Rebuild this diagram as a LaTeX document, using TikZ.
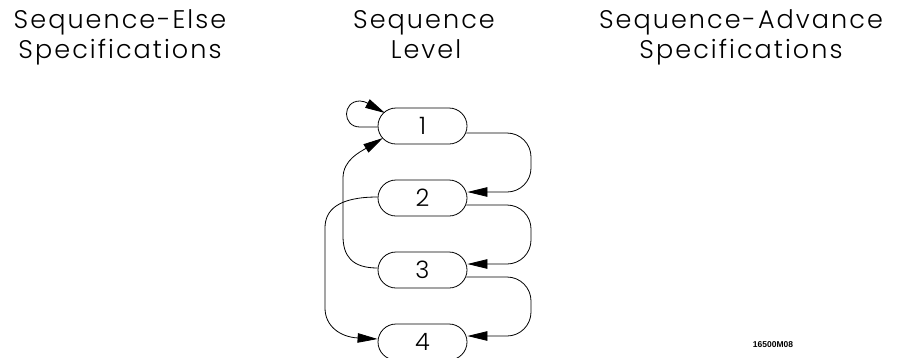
\documentclass[tikz,border=0pt]{standalone}
\usepackage{fontspec}
\setmainfont{Poppins}
\IfFontExistsTF{Poppins Light}
  {\newfontfamily\hdr[LetterSpace=8]{Poppins Light}}
  {\newfontfamily\hdr[LetterSpace=8]{Poppins}}
\newfontfamily\codefont{Liberation Sans}
\usetikzlibrary{arrows.meta,calc}
\tikzset{
  state/.style={draw, line width=0.8pt, rounded corners=18pt, minimum width=89pt, minimum height=36pt, inner sep=0pt, font=\hdr\fontsize{24}{24}\selectfont},
  hdrtext/.style={anchor=base, inner sep=0pt, font=\hdr\fontsize{25.5}{30}\selectfont},
  conn/.style={line width=0.8pt},
  tip/.style={-{Triangle[length=20pt,width=9.5pt]}}
}
\begin{document}
\begin{tikzpicture}[x=1pt,y=1pt]
\useasboundingbox (0,0) rectangle (899,-357);
% headers
\node[hdrtext] (h1a) at (120,-28) {Sequence-Else};
\node[hdrtext] (h1b) at (120,-58) {Specifications};
\node[hdrtext] (h2a) at (424,-28) {Sequence};
\node[hdrtext] (h2b) at (426,-58) {Level};
\node[hdrtext] (h3a) at (741,-28) {Sequence-Advance};
\node[hdrtext] (h3b) at (741,-58) {Specifications};
% states
\node[state] (n1) at (422.5,-126) {1};
\node[state] (n2) at (422.5,-198) {2};
\node[state] (n3) at (422.5,-270) {3};
\node[state] (n4) at (422.5,-342) {4};
% right side advances
\draw[conn,tip,rounded corners=24pt] ($(n1.east)+(-1,-7)$) -- (531,-133) -- (531,-192) -- ($(n2.east)+(0,6)$);
\draw[conn,tip,rounded corners=24pt] ($(n2.east)+(-1,-7)$) -- (531,-205) -- (531,-264) -- ($(n3.east)+(0,6)$);
\draw[conn,tip,rounded corners=24pt] ($(n3.east)+(-1,-7)$) -- (531,-277) -- (531,-336) -- ($(n4.east)+(0,6)$);
% self loop on 1
\draw[conn,tip] ($(n1.west)+(0,-1)$) -- (360,-127) .. controls (342,-127) and (342,-101) .. (360,-101) .. controls (366,-101) and (372,-106) .. (385,-113);
% 3 -> 1
\draw[conn,tip] ($(n3.west)+(0,2)$) .. controls (352,-268) and (343,-256) .. (343,-236) -- (343,-178) .. controls (343,-160) and (360,-152) .. (383,-138);
% 2 -> 4
\draw[conn,tip] ($(n2.west)+(0,1)$) .. controls (338,-197) and (325,-210) .. (325,-228) -- (325,-308) .. controls (325,-326) and (340,-337) .. ($(n4.west)+(0,3)$);
% drawing code
\node[font=\codefont\bfseries\fontsize{8.5}{9}\selectfont, inner sep=0pt] (code) at (773,-345) {16500M08};
\end{tikzpicture}
\end{document}
